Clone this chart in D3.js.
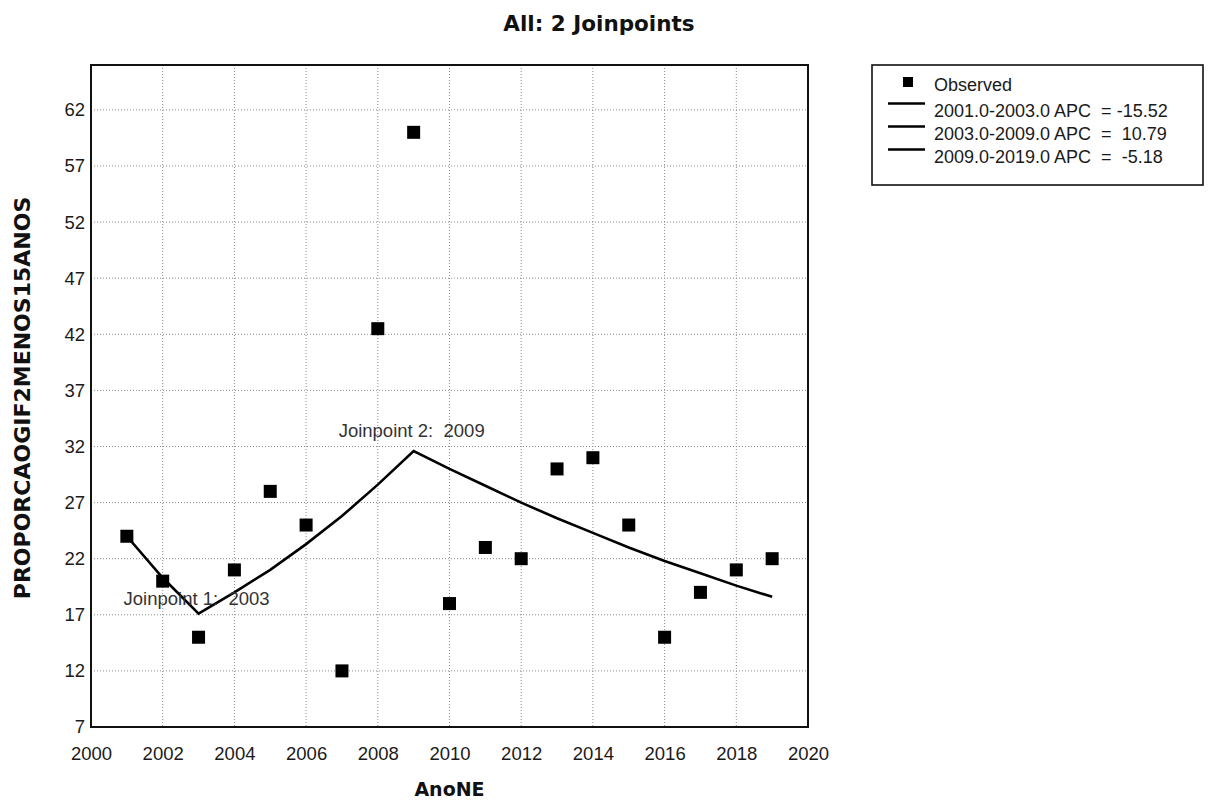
<!DOCTYPE html>
<html>
<head>
<meta charset="utf-8">
<script src="https://cdn.jsdelivr.net/npm/d3@7"></script>
<style>
  body { margin: 0; background: #fff; }
  svg { display: block; }
  .tick-label { font-family: "Liberation Sans", Arial, sans-serif; font-size: 18.5px; fill: #1a1a1a; }
  .legend-text { font-family: "Liberation Sans", Arial, sans-serif; font-size: 18px; fill: #1a1a1a; white-space: pre; }
  .jp-label { font-family: "Liberation Sans", Arial, sans-serif; font-size: 18.5px; fill: #333; white-space: pre; }
  .bold-label { font-family: "DejaVu Sans", Verdana, sans-serif; font-weight: bold; fill: #111; }
</style>
</head>
<body>
<div id="container"></div>
<script>
// Chart data
const years = [2001, 2002, 2003, 2004, 2005, 2006, 2007, 2008, 2009, 2010,
               2011, 2012, 2013, 2014, 2015, 2016, 2017, 2018, 2019];
const observed = [24, 20, 15, 21, 28, 25, 12, 42.5, 60, 18,
                  23, 22, 30, 31, 25, 15, 19, 21, 22];
const fitted = [24.0, 20.3, 17.1, 19.0, 21.0, 23.3, 25.8, 28.6, 31.6, 30.0,
                28.5, 27.0, 25.6, 24.3, 23.0, 21.8, 20.7, 19.6, 18.6];
const joinpoints = [2003, 2009];
const xTicks = [2000, 2002, 2004, 2006, 2008, 2010, 2012, 2014, 2016, 2018, 2020];
const yTicks = [7, 12, 17, 22, 27, 32, 37, 42, 47, 52, 57, 62];
const legendLines = [
    '2001.0-2003.0 APC  = -15.52',
    '2003.0-2009.0 APC  =  10.79',
    '2009.0-2019.0 APC  =  -5.18'
];

const width = 1210;
const height = 805;

// plot frame
const plot = { left: 91, right: 808, top: 65, bottom: 727 };

const svg = d3.select('#container').append('svg')
    .attr('width', width)
    .attr('height', height);

const xScale = d3.scaleLinear()
    .domain([2000, 2020])
    .range([plot.left, plot.right]);

const yScale = d3.scaleLinear()
    .domain([7, 66])
    .range([plot.bottom, plot.top]);

// Grid lines
svg.append('g')
    .selectAll('line')
    .data(xTicks.slice(1, -1))
    .enter()
    .append('line')
    .attr('x1', d => xScale(d))
    .attr('x2', d => xScale(d))
    .attr('y1', plot.top)
    .attr('y2', plot.bottom)
    .attr('stroke', '#8a8a8a')
    .attr('stroke-width', 1)
    .attr('stroke-dasharray', '1,2');

svg.append('g')
    .selectAll('line')
    .data(yTicks.slice(1))
    .enter()
    .append('line')
    .attr('x1', plot.left)
    .attr('x2', plot.right)
    .attr('y1', d => yScale(d))
    .attr('y2', d => yScale(d))
    .attr('stroke', '#8a8a8a')
    .attr('stroke-width', 1)
    .attr('stroke-dasharray', '1,2');

// Frame
svg.append('rect')
    .attr('x', plot.left)
    .attr('y', plot.top)
    .attr('width', plot.right - plot.left)
    .attr('height', plot.bottom - plot.top)
    .attr('fill', 'none')
    .attr('stroke', '#111')
    .attr('stroke-width', 2);

// Axes (labels only, no tick marks)
const xAxis = svg.append('g')
    .attr('transform', 'translate(0,' + plot.bottom + ')')
    .call(d3.axisBottom(xScale).tickValues(xTicks).tickFormat(d3.format('d')).tickSize(0).tickPadding(20));
xAxis.select('.domain').remove();
xAxis.selectAll('text').attr('class', 'tick-label').attr('fill', null).attr('font-size', null).attr('font-family', null);

const yAxis = svg.append('g')
    .attr('transform', 'translate(' + plot.left + ',0)')
    .call(d3.axisLeft(yScale).tickValues(yTicks).tickSize(0).tickPadding(6));
yAxis.select('.domain').remove();
yAxis.selectAll('text').attr('class', 'tick-label').attr('fill', null).attr('font-size', null).attr('font-family', null);

// Fitted joinpoint line
const line = d3.line()
    .x((d, i) => xScale(years[i]))
    .y(d => yScale(d));

svg.append('path')
    .datum(fitted)
    .attr('d', line)
    .attr('fill', 'none')
    .attr('stroke', '#000')
    .attr('stroke-width', 2.6)
    .attr('stroke-linejoin', 'miter');

// Observed squares
const sq = 13;
svg.append('g')
    .selectAll('rect')
    .data(observed)
    .enter()
    .append('rect')
    .attr('x', (d, i) => xScale(years[i]) - sq / 2)
    .attr('y', d => yScale(d) - sq / 2)
    .attr('width', sq)
    .attr('height', sq)
    .attr('fill', '#000');

// Joinpoint labels
const jpOffsets = [9, 14];
svg.append('g')
    .selectAll('text')
    .data(joinpoints)
    .enter()
    .append('text')
    .attr('class', 'jp-label')
    .attr('x', d => xScale(d) - 75)
    .attr('y', (d, i) => yScale(fitted[years.indexOf(d)]) - jpOffsets[i])
    .text((d, i) => 'Joinpoint ' + (i + 1) + ':  ' + d);

// Title
svg.append('text')
    .attr('class', 'bold-label')
    .attr('x', 599)
    .attr('y', 31)
    .attr('text-anchor', 'middle')
    .attr('font-size', 21.5)
    .text('All: 2 Joinpoints');

// Axis titles
svg.append('text')
    .attr('class', 'bold-label')
    .attr('x', (plot.left + plot.right) / 2)
    .attr('y', 796)
    .attr('text-anchor', 'middle')
    .attr('font-size', 19)
    .text('AnoNE');

svg.append('text')
    .attr('class', 'bold-label')
    .attr('transform', 'translate(30,' + 398 + ') rotate(-90)')
    .attr('text-anchor', 'middle')
    .attr('font-size', 22)
    .text('PROPORCAOGIF2MENOS15ANOS');

// Legend
const legend = svg.append('g');
legend.append('rect')
    .attr('x', 872)
    .attr('y', 65)
    .attr('width', 331)
    .attr('height', 120)
    .attr('fill', '#fff')
    .attr('stroke', '#111')
    .attr('stroke-width', 1.6);

legend.append('rect')
    .attr('x', 903)
    .attr('y', 77)
    .attr('width', 10)
    .attr('height', 10)
    .attr('fill', '#000');

legend.append('text')
    .attr('class', 'legend-text')
    .attr('x', 934)
    .attr('y', 91)
    .text('Observed');

legend.selectAll('.lg-line')
    .data(legendLines)
    .enter()
    .append('line')
    .attr('class', 'lg-line')
    .attr('x1', 888)
    .attr('x2', 925)
    .attr('y1', (d, i) => 103.5 + i * 23)
    .attr('y2', (d, i) => 103.5 + i * 23)
    .attr('stroke', '#000')
    .attr('stroke-width', 2.6);

legend.selectAll('.lg-text')
    .data(legendLines)
    .enter()
    .append('text')
    .attr('class', 'legend-text lg-text')
    .attr('x', 934)
    .attr('y', (d, i) => 116.5 + i * 23)
    .text(d => d);
</script>
</body>
</html>
